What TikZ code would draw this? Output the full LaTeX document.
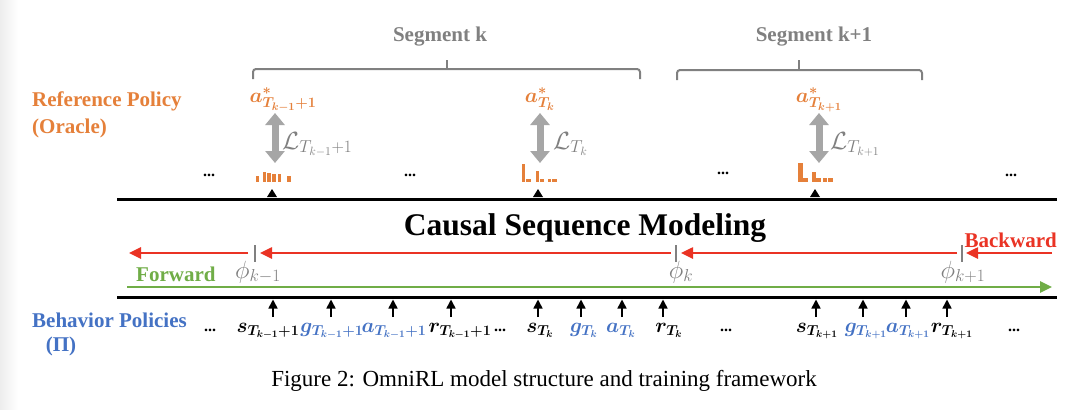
\documentclass[tikz,border=0pt]{standalone}
\usepackage{amsmath,bm}
\usepackage{fontspec}
\setmainfont{Liberation Serif}
\usetikzlibrary{arrows.meta}
\definecolor{orng}{RGB}{229,128,58}
\definecolor{blu}{RGB}{68,114,196}
\definecolor{grn}{RGB}{112,173,71}
\definecolor{rd}{RGB}{234,51,36}
\definecolor{gry}{RGB}{128,128,128}
\definecolor{lgry}{RGB}{166,166,166}
\tikzset{
  lbl/.style={inner sep=0pt, font=\fontsize{21}{25}\selectfont\bfseries},
  mth/.style={inner sep=0pt, font=\fontsize{21}{25}\selectfont},
  mtht/.style={inner sep=0pt, font=\fontsize{20}{24}\selectfont},
  mthg/.style={inner sep=0pt, font=\fontsize{24}{28}\selectfont, text=gry},
  dotsn/.style={inner sep=0pt, font=\fontsize{16}{20}\selectfont\bfseries},
  bar/.style={fill=orng, draw=none},
  dbl/.style={draw=lgry, line width=7pt, {Triangle[width=19pt,length=12pt]}-{Triangle[width=19pt,length=12pt]}},
  tok/.style={draw=black, line width=1.6pt, -{Triangle[width=9pt,length=9pt]}},
  bwd/.style={draw=rd, line width=2.5pt, -{Triangle[width=11pt,length=12pt]}},
  fwd/.style={draw=grn, line width=2.5pt, -{Triangle[width=11pt,length=12pt]}},
  rulel/.style={draw=black, line width=3pt},
  bracel/.style={draw=gry, line width=2pt, rounded corners=3pt},
  tickl/.style={draw=gry, line width=2.5pt},
  tri/.style={fill=black}
}
\begin{document}
\begin{tikzpicture}[x=1pt,y=-1pt]
\useasboundingbox (0,0) rectangle (1080,410);
\fill[white] (0,0) rectangle (1080,410);
\shade[left color=black!7,right color=white] (0,0) rectangle (18,410);

% segment labels and brackets
\node[lbl, text=gry, anchor=base] (segk) at (440,41) {Segment k};
\node[lbl, text=gry, anchor=base] (segk1) at (814,41) {Segment k+1};
\draw[bracel] (253,79) -- (253,69) -- (640,69) -- (640,79);
\draw[bracel] (447,69) -- (447,60);
\draw[bracel] (677,80) -- (677,70) -- (922,70) -- (922,80);
\draw[bracel] (799,70) -- (799,60);

% left labels
\node[lbl, text=orng, anchor=base west] (refA) at (32,106) {Reference Policy};
\node[lbl, text=orng, anchor=base west] (refB) at (32,133) {(Oracle)};
\node[lbl, text=blu, anchor=base west] (behA) at (32,327) {Behavior Policies};
\node[lbl, text=blu, anchor=base] (behB) at (61,351) {(Π)};

% oracle actions
\node[mth, text=orng, anchor=base] (as1) at (283,102) {$\bm{a^{*}_{T_{k-1}+1}}$};
\node[mth, text=orng, anchor=base] (as2) at (540,102) {$\bm{a^{*}_{T_{k}}}$};
\node[mth, text=orng, anchor=base] (as3) at (819,102) {$\bm{a^{*}_{T_{k+1}}}$};

\coordinate (u1) at (275,113); \coordinate (d1) at (275,163);
\coordinate (u2) at (540,113); \coordinate (d2) at (540,163);
\coordinate (u3) at (819,113); \coordinate (d3) at (819,163);
\draw[dbl] (u1) -- (d1);
\draw[dbl] (u2) -- (d2);
\draw[dbl] (u3) -- (d3);
\node[mthg, anchor=base west] (L1) at (282,149) {$\mathcal{L}_{T_{k-1}+1}$};
\node[mthg, anchor=base west] (L2) at (553,149) {$\mathcal{L}_{T_{k}}$};
\node[mthg, anchor=base west] (L3) at (830,149) {$\mathcal{L}_{T_{k+1}}$};

% histograms
\foreach \a/\b/\t in {255.7/258.7/176,262.5/266/172,267.3/270.7/173,272.3/275.7/174,277.7/281/174,286.7/290.7/176}
  \fill[bar] (\a,182) rectangle (\b,\t);
\foreach \a/\b/\t in {521.7/525.3/164.3,526/530.7/179,535.7/539/171,540/544/179,547.7/550.7/179,552.3/556.7/179}
  \fill[bar] (\a,182) rectangle (\b,\t);
\foreach \a/\b/\t in {798.3/802.7/163.3,803.3/808.3/178,811.7/815.7/172,816/820.7/178,823.3/827.3/178,828.3/833.3/178}
  \fill[bar] (\a,182) rectangle (\b,\t);

% triangles
\foreach \x in {272,538,815}
  \fill[tri] (\x-5,197) -- (\x+5,197) -- (\x,189) -- cycle;

% top dots
\node[dotsn, anchor=center] (td1) at (209,175) {...};
\node[dotsn, anchor=center] (td2) at (410,175) {...};
\node[dotsn, anchor=center] (td3) at (723,173) {...};
\node[dotsn, anchor=center] (td4) at (1011,175) {...};

% rules
\coordinate (tl) at (117,199); \coordinate (tr) at (1057,199);
\coordinate (bl) at (117,297); \coordinate (br) at (1057,297);
\draw[rulel] (tl) -- (tr);
\draw[rulel] (bl) -- (br);

\node[inner sep=0pt, font=\fontsize{31.5}{36}\selectfont\bfseries, anchor=base] (csm) at (585,235.5) {Causal Sequence Modeling};

% backward
\node[lbl, text=rd, anchor=base east] (bw) at (1057,247) {Backward};
\coordinate (r0) at (1052,253);
\coordinate (t3) at (962,253); \coordinate (t2) at (676,253); \coordinate (t1) at (255,253);
\coordinate (r4) at (129,253);
\draw[tickl] (962,245) -- (962,262);
\draw[tickl] (676,245) -- (676,262);
\draw[tickl] (255,245) -- (255,262);
\draw[bwd] (r0) -- ([xshift=4pt]t3);
\draw[bwd] ([xshift=-5pt]t3) -- ([xshift=5pt]t2);
\draw[bwd] ([xshift=-5pt]t2) -- ([xshift=5pt]t1);
\draw[bwd] ([xshift=-7pt]t1) -- (r4);
\node[mthg, anchor=base] (p1) at (258,278) {$\phi_{k-1}$};
\node[mthg, anchor=base] (p2) at (681,278) {$\phi_{k}$};
\node[mthg, anchor=base] (p3) at (963,278) {$\phi_{k+1}$};

% forward
\node[lbl, text=grn, anchor=base west] (fw) at (136,281) {Forward};
\coordinate (g0) at (127,287); \coordinate (g1) at (1052,287);
\draw[fwd] (g0) -- (g1);

% token arrows
\foreach \x in {273,331,393,451,538,581,622,663,816,863,906,947}
  \draw[tok] (\x,317) -- (\x,299.5);

% tokens
\node[mtht, anchor=base] (s1) at (268,332) {$\bm{s_{T_{k-1}+1}}$};
\node[mtht, anchor=base, text=blu] (g1n) at (332,332) {$\bm{g_{T_{k-1}+1}}$};
\node[mtht, anchor=base, text=blu] (a1) at (394,332) {$\bm{a_{T_{k-1}+1}}$};
\node[mtht, anchor=base] (r1) at (460,332) {$\bm{r_{T_{k-1}+1}}$};
\node[mtht, anchor=base] (s2) at (540,332) {$\bm{s_{T_{k}}}$};
\node[mtht, anchor=base, text=blu] (g2n) at (584,332) {$\bm{g_{T_{k}}}$};
\node[mtht, anchor=base, text=blu] (a2) at (621,332) {$\bm{a_{T_{k}}}$};
\node[mtht, anchor=base] (r2) at (669,332) {$\bm{r_{T_{k}}}$};
\node[mtht, anchor=base] (s3) at (817,332) {$\bm{s_{T_{k+1}}}$};
\node[mtht, anchor=base, text=blu] (g3n) at (866,332) {$\bm{g_{T_{k+1}}}$};
\node[mtht, anchor=base, text=blu] (a3) at (908,332) {$\bm{a_{T_{k+1}}}$};
\node[mtht, anchor=base] (r3) at (952,332) {$\bm{r_{T_{k+1}}}$};

\node[dotsn, anchor=center] (bd1) at (210,330) {...};
\node[dotsn, anchor=center] (bd2) at (500,330) {...};
\node[dotsn, anchor=center] (bd3) at (726,330) {...};
\node[dotsn, anchor=center] (bd4) at (1014,330) {...};

% caption
\node[inner sep=0pt, font=\fontsize{23}{27}\selectfont, anchor=base] (cap) at (544,386) {Figure 2: OmniRL model structure and training framework};
\end{tikzpicture}
\end{document}
